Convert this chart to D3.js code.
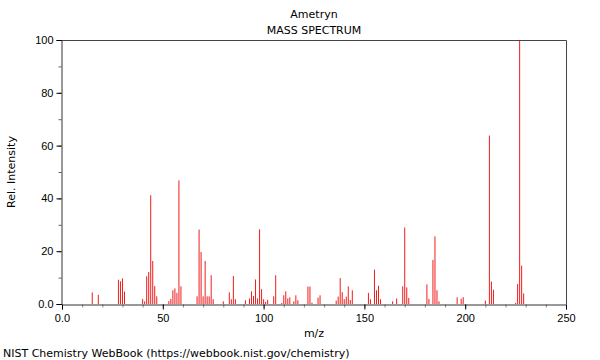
<!DOCTYPE html>
<html>
<head>
<meta charset="utf-8">
<script src="https://cdn.jsdelivr.net/npm/d3@7"></script>
<style>
  body { margin: 0; background: white; }
  svg { font-family: "DejaVu Sans", sans-serif; }
</style>
</head>
<body>
<div id="chart"></div>
<script>
// peaks
var mz = [15, 18, 28, 29, 30, 31, 40, 41, 42, 43, 44, 45, 46, 47,
  53, 54, 55, 56, 57, 58, 59, 67, 68, 69, 70, 71, 72, 73, 74, 75, 80,
  83, 84, 85, 86, 91, 93, 94, 95, 96, 97, 98, 99, 100, 101, 102, 105, 106,
  109, 110, 111, 112, 113, 115, 116, 117, 122, 123, 124, 127, 128,
  136, 137, 138, 139, 140, 141, 142, 143, 144, 152, 153, 155, 156, 157, 158,
  164, 166, 169, 170, 171, 172, 181, 182, 184, 185, 186, 187,
  196, 198, 199, 210, 212, 213, 214, 225, 226, 227, 228, 229];
var intensity = [4.4, 3.5, 9.2, 8.6, 9.7, 4.7, 1.9, 1.0, 10.5, 12.1, 41.2, 16.3, 6.8, 2.9,
  1.1, 1.9, 5.2, 5.9, 4.2, 46.8, 6.7, 2.9, 28.2, 19.7, 2.9, 16.3, 2.9, 2.9, 10.9, 1.8, 1.0,
  4.4, 1.8, 10.6, 1.8, 1.4, 2.1, 4.8, 3.0, 9.3, 2.1, 28.3, 5.6, 1.8, 0.8, 1.6, 2.9, 10.9,
  0.4, 3.3, 4.8, 2.1, 2.5, 1.0, 3.3, 1.4, 6.6, 6.6, 0.5, 2.4, 3.3,
  1.3, 2.8, 9.8, 4.5, 1.8, 2.8, 6.7, 1.5, 5.2, 4.2, 1.8, 13.0, 5.2, 6.9, 1.8,
  1.0, 2.1, 6.7, 29.0, 6.3, 2.3, 7.4, 1.9, 16.7, 25.6, 5.2, 1.0,
  2.5, 2.0, 2.6, 1.3, 63.8, 8.5, 5.4, 0.4, 7.6, 100, 14.5, 4.0];

var xTicks = [0, 50, 100, 150, 200, 250];
var xTickLabels = ["0.0", "50", "100", "150", "200", "250"];
var yTicks = [0, 20, 40, 60, 80, 100];
var yTickLabels = ["0.0", "20", "40", "60", "80", "100"];

var width = 600, height = 360;
var margin = { left: 62, right: 34, top: 40, bottom: 56 };

var svg = d3.select("#chart").append("svg")
    .attr("width", width)
    .attr("height", height);

var x = d3.scaleLinear().domain([0, 250]).range([margin.left, width - margin.right]);
var y = d3.scaleLinear().domain([0, 100]).range([height - margin.bottom, margin.top]);

var peaks = mz.map(function (d, i) { return { mz: d, rel: intensity[i] }; });

// peaks as thin sticks
svg.append("g")
    .selectAll("line")
    .data(peaks)
    .enter().append("line")
    .attr("x1", function (d) { return x(d.mz); })
    .attr("x2", function (d) { return x(d.mz); })
    .attr("y1", y(0))
    .attr("y2", function (d) { return y(d.rel); })
    .attr("stroke", "#f01c1c")
    .attr("stroke-width", 1);

// frame (top and right)
svg.append("path")
    .attr("d", "M" + x(0) + "," + (y(100) + 0.5) + "H" + (x(250) + 0.5) + "V" + y(0))
    .attr("fill", "none")
    .attr("stroke", "#444")
    .attr("stroke-width", 1);

// x axis: minor ticks every 10, labelled ticks every 50
var xMinor = d3.axisBottom(x).tickValues(d3.range(0, 251, 10)).tickSize(3).tickFormat("");
var gxm = svg.append("g").attr("transform", "translate(0," + (y(0) + 0.5) + ")").call(xMinor);
gxm.select(".domain").remove();
gxm.selectAll("line").attr("stroke", "#888");

var xAxis = d3.axisBottom(x)
    .tickValues(xTicks)
    .tickSize(5)
    .tickFormat(function (d, i) { return xTickLabels[i]; });
var gx = svg.append("g")
    .attr("transform", "translate(0," + (y(0) + 0.5) + ")")
    .call(xAxis);
gx.select(".domain").attr("stroke", "#333");
gx.selectAll("text").attr("font-size", 11).attr("fill", "#000").attr("dy", "0.9em");

// y axis
var yMinor = d3.axisLeft(y).tickValues(d3.range(0, 101, 10)).tickSize(3).tickFormat("");
var gym = svg.append("g").attr("transform", "translate(" + (x(0) - 0.5) + ",0)").call(yMinor);
gym.select(".domain").remove();
gym.selectAll("line").attr("stroke", "#666");

var yAxis = d3.axisLeft(y)
    .tickValues(yTicks)
    .tickSize(5)
    .tickFormat(function (d, i) { return yTickLabels[i]; });
var gy = svg.append("g")
    .attr("transform", "translate(" + (x(0) - 0.5) + ",0)")
    .call(yAxis);
gy.select(".domain").attr("stroke", "#333");
gy.selectAll("text").attr("font-size", 11).attr("fill", "#000");

// titles
svg.append("text").text("Ametryn")
    .attr("x", 314).attr("y", 18)
    .attr("text-anchor", "middle").attr("font-size", 11);
svg.append("text").text("MASS SPECTRUM")
    .attr("x", 314).attr("y", 34)
    .attr("text-anchor", "middle").attr("font-size", 11);

svg.append("text").text("m/z")
    .attr("x", 314).attr("y", 337)
    .attr("text-anchor", "middle").attr("font-size", 11);

svg.append("text").text("Rel. Intensity")
    .attr("transform", "translate(15," + y(50) + ") rotate(-90)")
    .attr("text-anchor", "middle").attr("font-size", 11);

svg.append("text").text("NIST Chemistry WebBook (https://webbook.nist.gov/chemistry)")
    .attr("x", 3).attr("y", 357)
    .attr("font-size", 11);
</script>
</body>
</html>
